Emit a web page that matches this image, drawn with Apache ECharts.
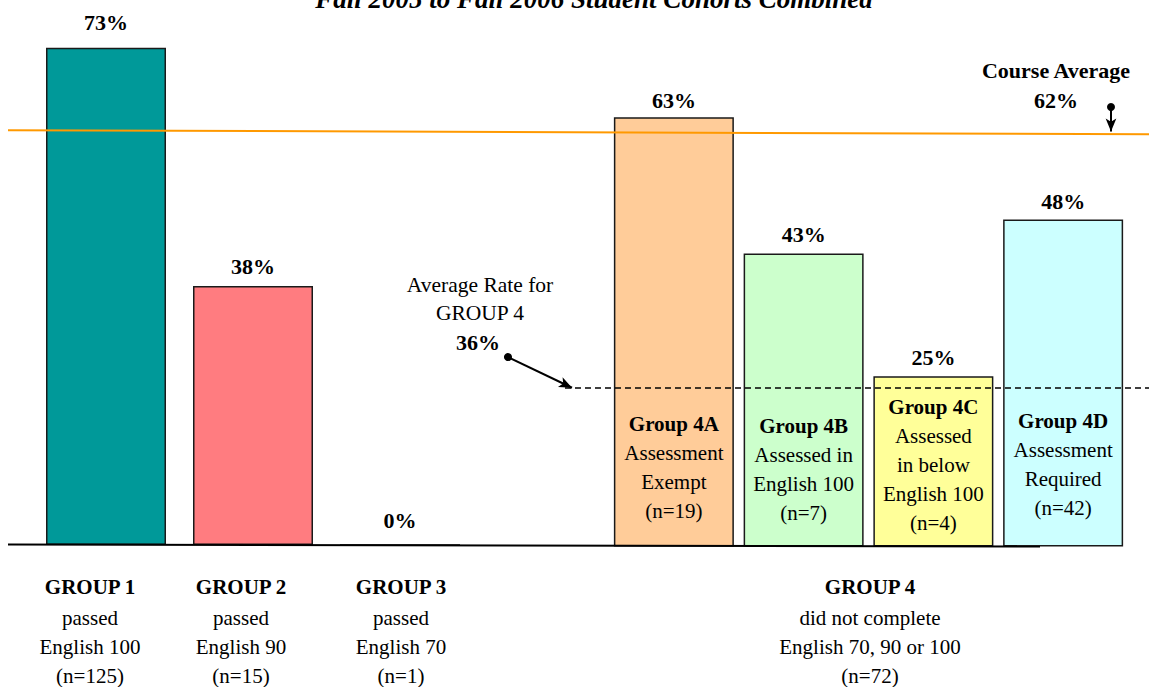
<!DOCTYPE html>
<html>
<head>
<meta charset="utf-8">
<script src="https://cdn.jsdelivr.net/npm/echarts@6/dist/echarts.min.js"></script>
<style>
  html, body { margin: 0; padding: 0; background: #fff; }
  #chart { width: 1149px; height: 687px; }
</style>
</head>
<body>
<div id="chart"></div>
<script>
// groups 1-3
var groups = ['GROUP 1', 'GROUP 2', 'GROUP 3'];
var groupSub = ['passed', 'passed', 'passed'];
var groupCourse = ['English 100', 'English 90', 'English 70'];
var groupN = [125, 15, 1];
var groupRates = [73, 38, 0];

// group 4 sub groups
var group4 = ['Group 4A', 'Group 4B', 'Group 4C', 'Group 4D'];
var group4Desc = [['Assessment', 'Exempt'], ['Assessed in', 'English 100'], ['Assessed', 'in below', 'English 100'], ['Assessment', 'Required']];
var group4N = [19, 7, 4, 42];
var group4Rates = [63, 43, 25, 48];

// reference lines (where they sit in the picture)
var courseAvg = 62;
var courseAvgLine = [61.1, 60.5];
var group4Avg = 36;
var group4AvgLine = 23.3;

var colors1 = ['#009999', '#FF7C80', '#FFFFFF'];
var colors4 = ['#FFCC99', '#CCFFCC', '#FFFF99', '#CCFFFF'];
var topGap1 = [14, 9, 13];
var topGap4 = [6, 8, 8, 7];
var innerGap4 = [21, 19, 9, 24];
var groupLabelX = [90, 241, 401];

var FONT = 'Liberation Serif';
var chart = echarts.init(document.getElementById('chart'), null, { renderer: 'svg' });

var valueLabel = {
    show: true,
    position: 'top',
    fontFamily: FONT,
    fontSize: 22,
    fontWeight: 'bold',
    color: '#000',
    formatter: function (p) { return p.value + '%'; }
};

var yAx = function (idx) {
    return { gridIndex: idx, type: 'value', min: 0, max: 75, show: false };
};

var labelRich = {
    b: { fontFamily: FONT, fontSize: 21, fontWeight: 'bold', fill: '#000', lineHeight: 32, align: 'center' },
    r: { fontFamily: FONT, fontSize: 21, fill: '#000', lineHeight: 29, align: 'center' }
};

var groupTexts = groups.map(function (g, i) {
    return {
        type: 'text', x: groupLabelX[i], y: 571,
        style: {
            text: '{b|' + g + '}\n{r|' + groupSub[i] + '}\n{r|' + groupCourse[i] + '}\n{r|(n=' + groupN[i] + ')}',
            textAlign: 'center', textVerticalAlign: 'top', rich: labelRich
        }
    };
});

chart.setOption({
    animation: false,
    grid: [
        { left: 32.5, right: 675.5, top: 34, bottom: 142 },
        { left: 609, right: 21, top: 35.5, bottom: 140.5 },
        { left: 0, right: 0, top: 35.5, bottom: 140.5 }
    ],
    xAxis: [
        {
            gridIndex: 0, type: 'category', data: groups,
            axisLine: { show: false }, axisTick: { show: false }, axisLabel: { show: false }
        },
        {
            gridIndex: 1, type: 'category', data: group4,
            axisLine: { show: false }, axisTick: { show: false }, axisLabel: { show: false }
        },
        { gridIndex: 2, type: 'value', min: 0, max: 1149, show: false }
    ],
    yAxis: [yAx(0), yAx(1), yAx(2)],
    series: [
        {
            type: 'bar', xAxisIndex: 0, yAxisIndex: 0, barWidth: 120,
            data: groupRates.map(function (v, i) {
                return {
                    value: v,
                    itemStyle: { color: colors1[i] },
                    label: { distance: topGap1[i] }
                };
            }),
            itemStyle: { borderColor: '#1a1a1a', borderWidth: 1.5 },
            label: valueLabel
        },
        {
            type: 'bar', xAxisIndex: 1, yAxisIndex: 1, barWidth: 120, barGap: '-100%',
            data: group4Rates.map(function (v, i) {
                return {
                    value: v,
                    itemStyle: { color: colors4[i] },
                    label: { distance: topGap4[i] }
                };
            }),
            itemStyle: { borderColor: '#1a1a1a', borderWidth: 1.5 },
            label: valueLabel
        },
        {
            type: 'bar', xAxisIndex: 1, yAxisIndex: 1, barWidth: 120, barGap: '-100%',
            silent: true,
            data: group4Rates.map(function (v, i) {
                return { value: v, label: { distance: innerGap4[i] } };
            }),
            itemStyle: { color: 'rgba(0,0,0,0)' },
            label: {
                show: true,
                position: 'insideBottom',
                fontFamily: FONT,
                formatter: function (p) {
                    var i = p.dataIndex;
                    var s = '{b|' + group4[i] + '}';
                    group4Desc[i].forEach(function (d) { s += '\n{r|' + d + '}'; });
                    return s + '\n{r|(n=' + group4N[i] + ')}';
                },
                rich: {
                    b: { fontFamily: FONT, fontSize: 21, fontWeight: 'bold', color: '#000', lineHeight: 29 },
                    r: { fontFamily: FONT, fontSize: 21, color: '#000', lineHeight: 29 }
                }
            }
        },
        {
            type: 'line', xAxisIndex: 2, yAxisIndex: 2, data: [], silent: true,
            markLine: {
                silent: true, symbol: ['none', 'none'], label: { show: false },
                data: [
                    [{ coord: [8, courseAvgLine[0]], lineStyle: { color: '#FF9900', width: 2, type: 'solid' } },
                     { coord: [1149, courseAvgLine[1]] }],
                    [{ coord: [565, group4AvgLine], lineStyle: { color: '#000', width: 1.5, type: [6, 4] } },
                     { coord: [1149, group4AvgLine] }],
                    [{ coord: [8, 0.3], lineStyle: { color: '#000', width: 2, type: 'solid' } },
                     { coord: [1040, 0] }]
                ]
            }
        },
        {
            type: 'line', xAxisIndex: 2, yAxisIndex: 2, data: [], silent: true,
            markLine: {
                silent: true, symbol: ['circle', 'arrow'], symbolSize: [8, 13],
                label: { show: false },
                lineStyle: { color: '#000', width: 2, type: 'solid' },
                data: [
                    [{ coord: [1111, 64.5] }, { coord: [1111, 60.9] }],
                    [{ coord: [508, 27.8] }, { coord: [572, 23.3] }]
                ]
            }
        }
    ],
    graphic: groupTexts.concat([
        {
            type: 'text', x: 594, y: 12,
            style: {
                text: 'Fall 2005 to Fall 2006 Student Cohorts Combined', font: 'italic bold 27px ' + FONT,
                fill: '#000', textAlign: 'center', textVerticalAlign: 'bottom'
            }
        },
        {
            type: 'text', x: 1056, y: 70,
            style: { text: 'Course Average', font: 'bold 22px ' + FONT, fill: '#000', textAlign: 'center', textVerticalAlign: 'middle' }
        },
        {
            type: 'text', x: 1056, y: 100,
            style: { text: courseAvg + '%', font: 'bold 22px ' + FONT, fill: '#000', textAlign: 'center', textVerticalAlign: 'middle' }
        },
        {
            type: 'text', x: 480, y: 285,
            style: { text: 'Average Rate for', font: '21.5px ' + FONT, fill: '#000', textAlign: 'center', textVerticalAlign: 'middle' }
        },
        {
            type: 'text', x: 480, y: 313,
            style: { text: 'GROUP 4', font: '21.5px ' + FONT, fill: '#000', textAlign: 'center', textVerticalAlign: 'middle' }
        },
        {
            type: 'text', x: 478, y: 342,
            style: { text: group4Avg + '%', font: 'bold 22px ' + FONT, fill: '#000', textAlign: 'center', textVerticalAlign: 'middle' }
        },
        {
            type: 'text', x: 870, y: 571,
            style: {
                text: '{b|GROUP 4}\n{r|did not complete}\n{r|English 70, 90 or 100}\n{r|(n=72)}',
                textAlign: 'center', textVerticalAlign: 'top', rich: labelRich
            }
        }
    ])
});
</script>
</body>
</html>
